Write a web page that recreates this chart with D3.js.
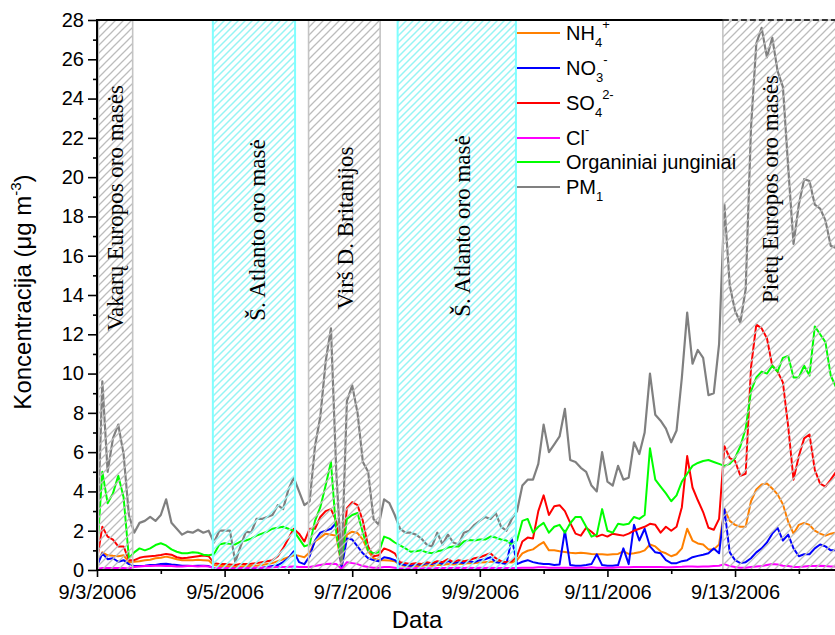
<!DOCTYPE html>
<html>
<head>
<meta charset="utf-8">
<script src="https://cdn.jsdelivr.net/npm/d3@7"></script>
<style>
  body { margin: 0; background: #fff; }
  svg { display: block; }
</style>
</head>
<body>
<svg id="chart" width="835" height="635"></svg>
<script>
// Aerosol composition, 2-hourly samples starting 2006-09-03 00:00
const startDate = "2006-09-03 00:00";
const sampleStepHours = 2;

const nh4 = [
  0.3, 0.9, 0.75, 0.72, 0.7, 0.75, 0.4, 0.42,
  0.45, 0.5, 0.52, 0.6, 0.62, 0.68, 0.62, 0.55,
  0.5, 0.5, 0.5, 0.52, 0.5, 0.48, 0.25, 0.2,
  0.2, 0.18, 0.15, 0.18, 0.2, 0.2, 0.22, 0.25,
  0.3, 0.35, 0.45, 0.55, 0.65, 0.75, 0.72, 0.65,
  0.9, 1.45, 1.65, 1.85, 1.8, 1.75, 0.2, 1.8,
  1.95, 1.88, 1.55, 0.95, 0.6, 0.5, 0.5, 0.48,
  0.45, 0.25, 0.2, 0.18, 0.22, 0.2, 0.25, 0.22,
  0.25, 0.25, 0.3, 0.28, 0.3, 0.32, 0.35, 0.35,
  0.38, 0.4, 0.42, 0.42, 0.4, 0.4, 0.38, 0.5,
  0.85, 0.98, 1.05, 1.25, 1.42, 1.0, 1.0, 0.95,
  0.92, 0.88, 0.85, 0.88, 0.85, 0.82, 0.8, 0.8,
  0.78, 0.8, 0.82, 0.95, 0.82, 0.85, 0.9, 1.0,
  1.3, 1.2, 0.95, 0.85, 0.7, 0.8, 1.1, 2.1,
  1.5, 1.35, 1.3, 1.05, 1.05, 1.3, 3.1, 2.5,
  2.3, 2.2, 2.2, 3.5, 4.1, 4.35, 4.4, 4.15,
  3.85, 3.35, 2.45, 1.85, 2.3, 2.4, 2.3, 2.0,
  1.85, 1.75, 1.85, 1.9
];

const no3 = [
  0.2, 0.85, 0.55, 0.6, 0.42, 0.5, 0.3, 0.2,
  0.2, 0.22, 0.25, 0.25, 0.3, 0.32, 0.28, 0.25,
  0.22, 0.22, 0.2, 0.22, 0.22, 0.2, 0.1, 0.08,
  0.08, 0.08, 0.06, 0.08, 0.08, 0.1, 0.1, 0.12,
  0.15, 0.2, 0.25, 0.4, 0.6, 0.95, 0.4, 0.3,
  0.7, 1.5, 1.9, 2.0, 2.1, 2.4, 0.1, 1.6,
  1.55, 1.2, 0.85, 0.6, 0.5, 0.45, 0.65, 0.6,
  0.5, 0.3, 0.25, 0.22, 0.3, 0.25, 0.35, 0.3,
  0.4, 0.3, 0.45, 0.35, 0.4, 0.35, 0.45, 0.4,
  0.5, 0.55, 0.65, 0.4, 0.35, 0.3, 1.6, 0.3,
  0.42, 0.5, 0.4, 0.34, 0.3, 0.3, 0.25, 0.28,
  2.0, 0.25, 0.22, 0.22, 0.25, 0.3, 0.8, 0.25,
  0.22, 0.22, 0.25, 1.1, 0.3, 2.3, 1.5, 2.1,
  1.2, 0.9, 0.85, 0.5, 0.35, 0.35, 0.45, 0.5,
  0.65, 0.72, 0.78, 0.85, 1.1, 0.85, 3.1, 0.9,
  0.5, 0.35, 0.4, 0.6, 0.9, 1.1, 1.4, 1.85,
  2.15, 1.5, 1.8, 1.1, 0.7, 0.8, 0.8, 1.1,
  1.3, 1.2, 1.0, 1.0
];

const so4 = [
  0.5, 2.2, 1.7, 1.55, 1.2, 1.2, 0.5, 0.5,
  0.62, 0.68, 0.7, 0.72, 0.76, 0.82, 0.78, 0.65,
  0.6, 0.62, 0.66, 0.7, 0.74, 0.7, 0.35, 0.3,
  0.3, 0.28, 0.25, 0.3, 0.3, 0.32, 0.35, 0.4,
  0.45, 0.5, 0.7, 1.1, 1.6, 2.1, 1.85, 1.45,
  2.1, 2.1, 2.7, 3.0, 3.1, 2.5, 0.3, 3.15,
  3.45, 3.3, 2.5, 1.2, 0.7, 0.75, 1.1, 1.0,
  0.85, 0.4, 0.35, 0.3, 0.35, 0.3, 0.4, 0.35,
  0.45, 0.4, 0.55, 0.4, 0.5, 0.45, 0.5, 0.6,
  0.65, 0.75, 0.85, 0.6, 0.45, 0.4, 0.45, 0.7,
  1.45, 1.65, 1.6, 3.0, 3.8, 2.8, 3.25, 3.3,
  3.0, 2.4, 1.85, 1.75, 2.15, 1.95, 1.7, 1.8,
  1.7, 1.85, 1.8, 1.75, 1.85, 2.0, 2.1, 2.2,
  2.35, 2.3, 1.9, 2.2, 2.0, 2.2, 3.2, 5.8,
  4.2, 3.55, 2.95, 2.15, 2.05, 2.6, 6.3, 5.7,
  5.55, 4.8, 4.9, 10.3, 12.5, 12.3, 11.8, 10.4,
  10.1, 9.55, 7.3, 4.6, 5.8, 6.7, 6.9, 5.1,
  4.4, 4.25, 4.6, 5.0
];

const cl = [
  0.05, 0.1, 0.1, 0.1, 0.1, 0.1, 0.08, 0.15,
  0.18, 0.2, 0.2, 0.22, 0.22, 0.2, 0.2, 0.18,
  0.18, 0.2, 0.2, 0.18, 0.2, 0.18, 0.1, 0.1,
  0.1, 0.1, 0.08, 0.1, 0.1, 0.12, 0.12, 0.12,
  0.12, 0.14, 0.15, 0.15, 0.16, 0.18, 0.15, 0.15,
  0.15, 0.2, 0.25, 0.3, 0.32, 0.3, 0.05, 0.4,
  0.35, 0.3, 0.2, 0.15, 0.12, 0.12, 0.15, 0.15,
  0.12, 0.08, 0.08, 0.08, 0.1, 0.08, 0.1, 0.08,
  0.1, 0.1, 0.1, 0.1, 0.12, 0.1, 0.12, 0.1,
  0.12, 0.1, 0.12, 0.1, 0.1, 0.1, 0.1, 0.1,
  0.12, 0.12, 0.12, 0.14, 0.14, 0.12, 0.12, 0.12,
  0.12, 0.12, 0.12, 0.12, 0.12, 0.14, 0.12, 0.12,
  0.12, 0.12, 0.14, 0.14, 0.14, 0.15, 0.15, 0.15,
  0.15, 0.15, 0.15, 0.14, 0.14, 0.15, 0.16, 0.18,
  0.18, 0.17, 0.18, 0.18, 0.2, 0.22, 0.3, 0.2,
  0.15, 0.12, 0.12, 0.15, 0.18, 0.2, 0.25, 0.3,
  0.28, 0.22, 0.2, 0.15, 0.15, 0.18, 0.2, 0.2,
  0.22, 0.2, 0.18, 0.18
];

const organics = [
  0.8, 5.0, 3.4, 3.9, 4.8, 3.7, 0.6, 0.9,
  1.1, 1.0, 1.1, 1.27, 1.36, 1.25, 1.05, 0.93,
  0.85, 0.85, 0.9, 0.88, 0.78, 0.75, 0.8, 1.3,
  1.36, 1.33, 1.3, 1.45, 1.5, 1.6, 1.75, 1.85,
  1.95, 2.1, 2.15, 2.2, 2.1, 2.0, 1.6, 1.2,
  1.3, 2.5, 3.2, 4.3, 5.5, 1.9, 0.4, 2.6,
  2.8, 2.9, 1.9, 1.0, 0.85, 0.9, 1.7, 1.6,
  1.4, 1.25, 1.1, 0.93, 0.95, 1.0, 0.9, 0.85,
  0.95, 1.0, 1.15, 1.2, 1.2, 1.45, 1.53, 1.5,
  1.55, 1.55, 1.7, 1.65, 1.55, 1.5, 1.3, 1.5,
  2.5, 2.6, 1.9, 2.2, 2.4, 1.9, 2.2, 2.3,
  1.9, 2.38, 2.7, 2.7, 2.2, 1.7, 1.8, 3.1,
  2.0, 1.9, 2.35, 2.3, 2.35, 2.7, 2.6, 2.8,
  6.2, 4.6, 4.25, 3.9, 3.5, 3.8, 4.5, 4.9,
  5.3, 5.45, 5.55, 5.6, 5.5, 5.4, 5.3, 5.4,
  5.7, 6.3, 7.2, 9.1, 9.8, 10.1, 10.0, 10.4,
  10.1, 10.8, 10.9, 9.8, 9.8, 10.4, 9.9, 12.4,
  12.0, 11.6, 9.9, 9.3
];

const pm1 = [
  1.0, 9.6, 5.0, 6.7, 7.4, 5.9, 2.8, 1.9,
  2.4, 2.5, 2.7, 2.5, 2.8, 3.6, 2.4, 2.1,
  1.8, 1.95, 1.9, 2.05, 1.9, 2.0, 1.4, 2.0,
  2.0, 2.0, 0.4, 1.2, 1.95, 1.9, 2.6, 2.6,
  2.7, 2.8, 3.3, 3.1, 4.1, 4.7, 4.0, 3.3,
  3.5, 6.3, 7.8, 10.6, 12.3, 5.0, 0.3, 8.6,
  9.4, 8.0, 5.5, 5.0, 2.6, 2.3, 3.6, 3.4,
  2.8, 2.1, 1.9, 1.9, 1.8, 1.6, 1.3, 1.2,
  1.9, 1.3, 1.8, 1.4, 1.3, 1.9, 2.0, 2.3,
  2.5, 2.7, 2.6, 2.9, 2.2, 2.0, 2.6, 3.0,
  4.3, 4.6, 4.6, 5.4, 7.4, 6.0, 6.4, 6.8,
  8.2, 5.6, 5.5, 5.2, 5.0, 4.3, 4.0, 6.0,
  4.5, 4.3, 5.3, 4.6, 4.7, 6.5, 5.9, 7.0,
  10.0, 7.9, 7.6, 7.2, 6.5, 7.1, 9.8, 13.1,
  10.5, 11.2, 10.8, 8.9, 9.0, 11.5, 18.6, 14.5,
  13.2, 12.6, 14.3, 22.5, 26.8, 27.6, 26.1, 27.1,
  25.4, 24.6, 20.5, 16.6, 18.6, 19.9, 19.8, 18.6,
  18.4, 17.8, 16.5, 16.4
];

// Series order, names and colours (later series are drawn on top)
const seriesKeys   = ["nh4", "no3", "so4", "cl", "org", "pm1"];
const seriesValues = [nh4, no3, so4, cl, organics, pm1];
const seriesColors = ["#FF8000", "#0000FF", "#FF0000", "#FF00FF", "#00FF00", "#808080"];

// Air mass periods
const airMassLabels = [
  "Vakarų Europos oro masės",
  "Š. Atlanto oro masė",
  "Virš D. Britanijos",
  "Š. Atlanto oro masė",
  "Pietų Europos oro masės"
];
const airMassStart = ["2006-09-03 00:30", "2006-09-04 19:35", "2006-09-06 07:35", "2006-09-07 17:05", "2006-09-12 19:25"];
const airMassEnd   = ["2006-09-03 13:25", "2006-09-06 02:30", "2006-09-07 10:30", "2006-09-09 13:35", "2006-09-15 00:00"];
const airMassKind  = ["gray", "cyan", "gray", "cyan", "gray"];

// Axis ticks
const xMajorTicks = ["2006-09-03", "2006-09-05", "2006-09-07", "2006-09-09", "2006-09-11", "2006-09-13"];
const xMinorTicks = ["2006-09-04", "2006-09-06", "2006-09-08", "2006-09-10", "2006-09-12", "2006-09-14"];
const yMajorTicks = [0, 2, 4, 6, 8, 10, 12, 14, 16, 18, 20, 22, 24, 26, 28];
const yMinorTicks = [1, 3, 5, 7, 9, 11, 13, 15, 17, 19, 21, 23, 25, 27];

// ---------------------------------------------------------------
const parseTime = d3.timeParse("%Y-%m-%d %H:%M");
const parseDay  = d3.timeParse("%Y-%m-%d");
const t0 = parseTime(startDate);
const times = pm1.map((_, i) => d3.timeMinute.offset(t0, i * sampleStepHours * 60));

const svg = d3.select("#chart");
const plot = { left: 97, right: 835, top: 20, bottom: 570 };

const x = d3.scaleTime()
  .domain([t0, d3.timeMinute.offset(t0, Math.round(277.6 * 60))])
  .range([plot.left, plot.right]);
const y = d3.scaleLinear().domain([0, 28]).range([plot.bottom, plot.top]);

const sans = "'Liberation Sans', Arial, sans-serif";
const serif = "'Liberation Serif', 'Times New Roman', serif";

svg.append("rect").attr("width", 835).attr("height", 635).attr("fill", "#fff");

// Hatch patterns
const defs = svg.append("defs");
const pGray = defs.append("pattern").attr("id", "hatchGray")
  .attr("patternUnits", "userSpaceOnUse").attr("width", 8).attr("height", 8);
pGray.append("path").attr("d", "M-2,2 L2,-2 M0,8 L8,0 M6,10 L10,6")
  .attr("stroke", "#bcbcbc").attr("stroke-width", 1.3);
const pCyan = defs.append("pattern").attr("id", "hatchCyan")
  .attr("patternUnits", "userSpaceOnUse").attr("width", 7).attr("height", 7);
pCyan.append("path").attr("d", "M-2,2 L2,-2 M0,7 L7,0 M5,9 L9,5")
  .attr("stroke", "#96f4f4").attr("stroke-width", 1.5);

// Data lines
const line = d3.line()
  .x((d, i) => x(times[i]))
  .y(d => y(d));

svg.append("g").selectAll("path")
  .data(seriesValues)
  .join("path")
  .attr("d", d => line(d))
  .attr("fill", "none")
  .attr("stroke", (d, i) => seriesColors[i])
  .attr("stroke-width", (d, i) => seriesKeys[i] === "pm1" ? 2.2 : 2)
  .attr("stroke-linejoin", "round");

// Air mass shading (drawn over the lines)
const regions = airMassLabels.map((label, i) => ({
  label,
  start: parseTime(airMassStart[i]),
  end: parseTime(airMassEnd[i]),
  kind: airMassKind[i]
}));

svg.append("g").selectAll("rect")
  .data(regions)
  .join("rect")
  .attr("x", d => x(d.start))
  .attr("y", y(28))
  .attr("width", d => x(d.end) - x(d.start))
  .attr("height", y(0) - y(28))
  .attr("fill", d => d.kind === "gray" ? "url(#hatchGray)" : "url(#hatchCyan)")
  .attr("stroke", d => d.kind === "gray" ? "#c4c4c4" : "#80ffff")
  .attr("stroke-width", d => d.kind === "gray" ? 1.6 : 2);

// Air mass labels, rotated
const labelPos = [
  { cx: 123, cy: 208 },
  { cx: 265, cy: 230 },
  { cx: 353, cy: 228 },
  { cx: 470, cy: 226 },
  { cx: 778, cy: 189 }
];
svg.append("g").selectAll("text")
  .data(regions)
  .join("text")
  .attr("transform", (d, i) => `translate(${labelPos[i].cx},${labelPos[i].cy}) rotate(-90)`)
  .attr("text-anchor", "middle")
  .attr("font-family", serif)
  .attr("font-size", 23)
  .attr("fill", "#000")
  .text(d => d.label);

// Axes
const fmt = d3.timeFormat("%-m/%-d/%Y");
svg.append("g")
  .attr("transform", `translate(0,${plot.bottom})`)
  .call(d3.axisBottom(x)
    .tickValues(xMajorTicks.map(parseDay))
    .tickFormat(fmt)
    .tickSizeInner(7).tickSizeOuter(0).tickPadding(8));
svg.append("g")
  .attr("transform", `translate(0,${plot.bottom})`)
  .call(d3.axisBottom(x)
    .tickValues(xMinorTicks.map(parseDay))
    .tickFormat("")
    .tickSizeInner(4).tickSizeOuter(0));

svg.append("g")
  .attr("transform", `translate(${plot.left},0)`)
  .call(d3.axisLeft(y)
    .tickValues(yMajorTicks)
    .tickSizeInner(9).tickSizeOuter(0).tickPadding(4));
svg.append("g")
  .attr("transform", `translate(${plot.left},0)`)
  .call(d3.axisLeft(y)
    .tickValues(yMinorTicks)
    .tickFormat("")
    .tickSizeInner(4).tickSizeOuter(0));

svg.selectAll(".domain").remove();
svg.selectAll(".tick line").attr("stroke", "#000").attr("stroke-width", 1.6);
svg.selectAll(".tick text")
  .attr("font-family", sans).attr("font-size", 20).attr("fill", "#000");

// Frame lines
svg.append("line").attr("x1", plot.left).attr("x2", plot.right)
  .attr("y1", plot.bottom).attr("y2", plot.bottom)
  .attr("stroke", "#000").attr("stroke-width", 2);
svg.append("line").attr("x1", plot.left).attr("x2", plot.left)
  .attr("y1", plot.top - 1).attr("y2", plot.bottom + 1)
  .attr("stroke", "#000").attr("stroke-width", 2);
svg.append("line").attr("x1", plot.left).attr("x2", x(regions[4].start))
  .attr("y1", plot.top).attr("y2", plot.top)
  .attr("stroke", "#000").attr("stroke-width", 2);
// top frame continues, broken, over the last shaded period
svg.append("line").attr("x1", x(regions[4].start)).attr("x2", plot.right)
  .attr("y1", plot.top).attr("y2", plot.top)
  .attr("stroke", "#000").attr("stroke-width", 1.6)
  .attr("stroke-dasharray", "6,3");

// Axis titles
const yTitle = svg.append("text")
  .attr("transform", "translate(31,292) rotate(-90)")
  .attr("text-anchor", "middle")
  .attr("font-family", sans).attr("font-size", 24).attr("fill", "#000");
yTitle.append("tspan").text("Koncentracija (μg m");
yTitle.append("tspan").attr("font-size", 15).attr("dy", -10).text("-3");
yTitle.append("tspan").attr("dy", 10).text(")");

svg.append("text")
  .attr("x", 417).attr("y", 628)
  .attr("text-anchor", "middle")
  .attr("font-family", sans).attr("font-size", 24).attr("fill", "#000")
  .text("Data");

// Legend
const legendParts = [
  [["NH", 0], ["4", 1], ["+", 2]],
  [["NO", 0], ["3", 1], ["-", 2]],
  [["SO", 0], ["4", 1], ["2-", 2]],
  [["Cl", 0], ["-", 2]],
  [["Organiniai junginiai", 0]],
  [["PM", 0], ["1", 1]]
];
const legendY = [33, 68, 103, 138, 162, 187];
const legend = svg.append("g");
seriesKeys.forEach((k, i) => {
  legend.append("line")
    .attr("x1", 517).attr("x2", 560)
    .attr("y1", legendY[i]).attr("y2", legendY[i])
    .attr("stroke", seriesColors[i]).attr("stroke-width", 2.2);
  const t = legend.append("text")
    .attr("x", 566).attr("y", legendY[i] + 7)
    .attr("font-family", sans).attr("font-size", 20).attr("fill", "#000");
  let shift = 0;
  legendParts[i].forEach(([s, pos]) => {
    const target = pos === 0 ? 0 : pos === 1 ? 7 : -11;
    const tsp = t.append("tspan").text(s).attr("dy", target - shift);
    if (pos !== 0) tsp.attr("font-size", 13);
    shift = target;
  });
});
</script>
</body>
</html>
